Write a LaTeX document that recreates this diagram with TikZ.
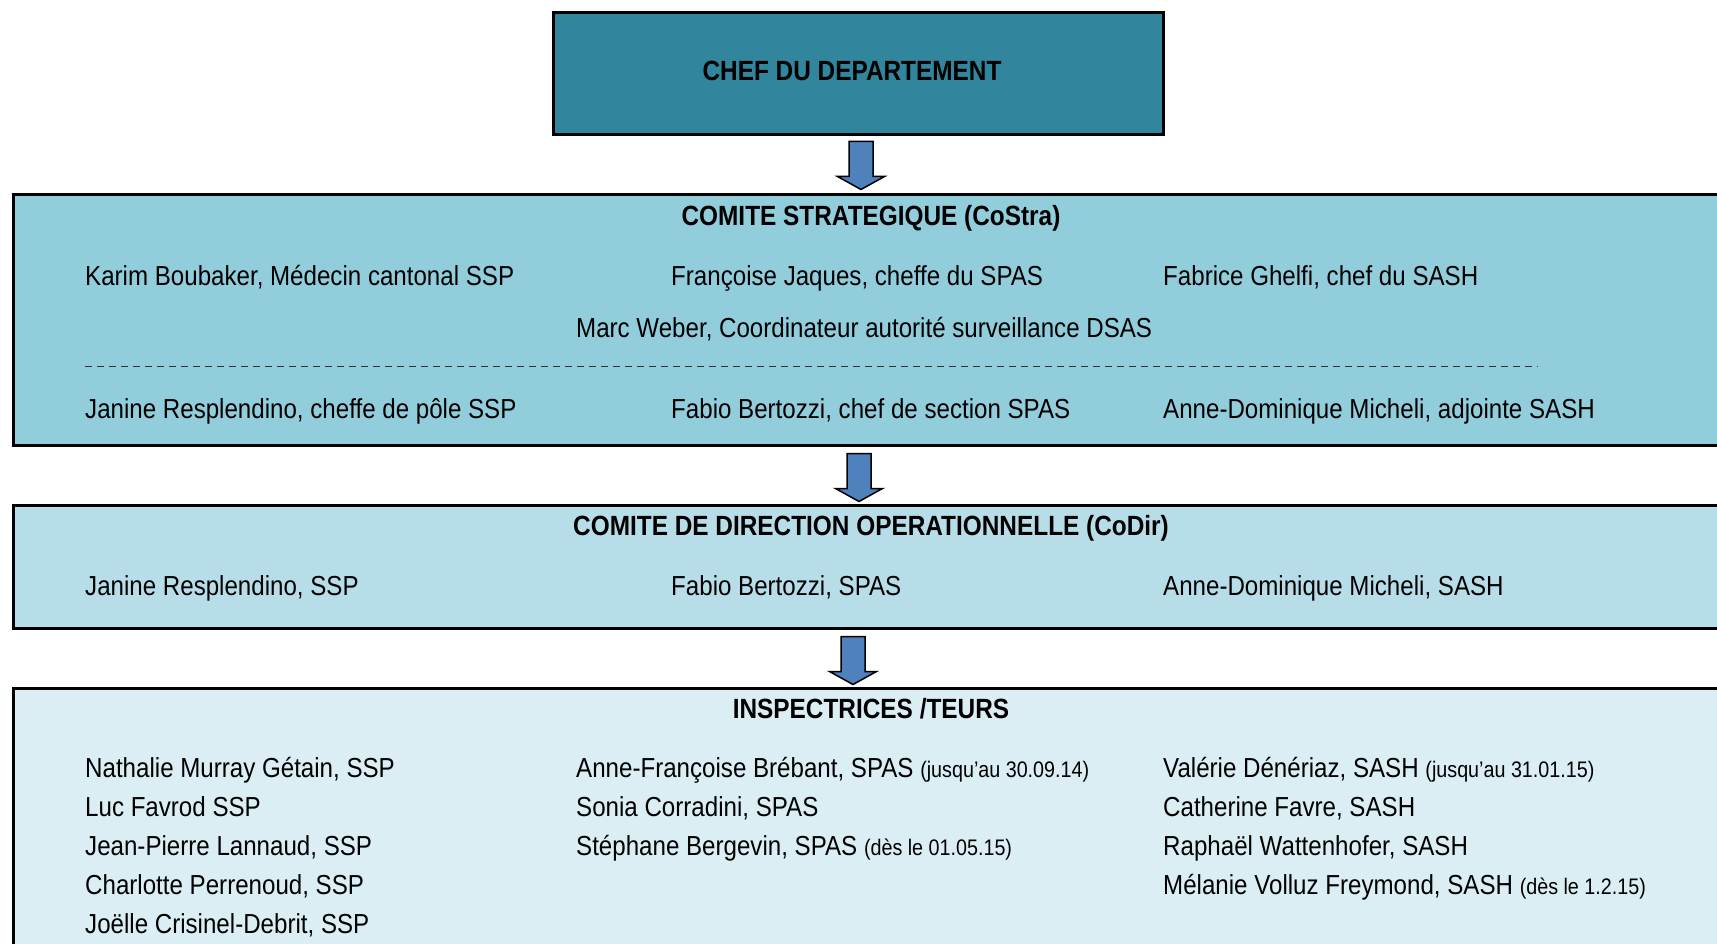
\documentclass[tikz,border=0pt]{standalone}
\usepackage{fontspec}
\setmainfont{Liberation Sans}[FakeStretch=0.877]
\usetikzlibrary{calc}
\definecolor{chefc}{HTML}{31859C}
\definecolor{costrac}{HTML}{92CDDC}
\definecolor{codirc}{HTML}{B7DEE8}
\definecolor{inspc}{HTML}{DAEEF3}
\definecolor{arrowc}{HTML}{4F81BD}
\newcommand{\smalldate}[1]{{\fontsize{22.5}{26}\selectfont #1}}
\begin{document}
\begin{tikzpicture}[x=1pt,y=-1pt,
  box/.style={draw=black, line width=3pt, inner sep=0pt, rectangle},
  txt/.style={anchor=base west, inner sep=0pt, font=\fontsize{27.5}{33}\selectfont},
  ttl/.style={anchor=base, inner sep=0pt, font=\fontsize{27.8}{33}\selectfont\bfseries},
  blockarrow/.pic={
    \draw[fill=arrowc, draw=black, line width=1.5pt, line join=miter]
      (-12,0) -- (12,0) -- (12,35) -- (23.5,35) -- (0,48) -- (-23.5,35) -- (-12,35) -- cycle;
  }]
\useasboundingbox (0,0) rectangle (1717,944);
\clip (0,0) rectangle (1717,944);
\fill[white] (0,0) rectangle (1717,944);

% boxes
\node[box, fill=chefc, minimum width=610pt, minimum height=122pt] (chef) at (858,74) {};
\node[box, fill=costrac, minimum width=1727pt, minimum height=250pt] (costra) at (876.5,320) {};
\node[box, fill=codirc, minimum width=1727pt, minimum height=123pt] (codir) at (876.5,566.5) {};
\node[box, fill=inspc, minimum width=1727pt, minimum height=312pt] (insp) at (876.5,844) {};

% arrows
\path ($(chef.south)+(3,5)$) pic {blockarrow};
\path ($(costra.south)+(-17.5,7)$) pic {blockarrow};
\path ($(codir.south)+(-23.5,7)$) pic {blockarrow};

% chef
\node[ttl] (tchef) at (852,81) {CHEF DU DEPARTEMENT};

% CoStra
\node[ttl] (tcostra) at (871,226) {COMITE STRATEGIQUE (CoStra)};
\node[txt] (s11) at (85,286) {Karim Boubaker, Médecin cantonal SSP};
\node[txt] (s12) at (671,286) {Françoise Jaques, cheffe du SPAS};
\node[txt] (s13) at (1163,286) {Fabrice Ghelfi, chef du SASH};
\node[txt] (s14) at (576,337) {Marc Weber, Coordinateur autorité surveillance DSAS};
\coordinate (dashL) at (85,366);
\coordinate (dashR) at (1538,366);
\draw[line width=1pt, dash pattern=on 7pt off 5pt, black!80] (dashL) -- (dashR);
\node[txt] (s21) at (85,418) {Janine Resplendino, cheffe de pôle SSP};
\node[txt] (s22) at (671,418) {Fabio Bertozzi, chef de section SPAS};
\node[txt] (s23) at (1163,418) {Anne-Dominique Micheli, adjointe SASH};

% CoDir
\node[ttl] (tcodir) at (871,535) {COMITE DE DIRECTION OPERATIONNELLE (CoDir)};
\node[txt] (d1) at (85,595) {Janine Resplendino, SSP};
\node[txt] (d2) at (671,595) {Fabio Bertozzi, SPAS};
\node[txt] (d3) at (1163,595) {Anne-Dominique Micheli, SASH};

% Inspecteurs
\node[ttl] (tinsp) at (871,718) {INSPECTRICES /TEURS};
\node[txt] (a1) at (85,777) {Nathalie Murray Gétain, SSP};
\node[txt] (a2) at (85,816) {Luc Favrod SSP};
\node[txt] (a3) at (85,855) {Jean-Pierre Lannaud, SSP};
\node[txt] (a4) at (85,894) {Charlotte Perrenoud, SSP};
\node[txt] (a5) at (85,933) {Joëlle Crisinel-Debrit, SSP};
\node[txt] (b1) at (576,777) {Anne-Françoise Brébant, SPAS \smalldate{(jusqu’au 30.09.14)}};
\node[txt] (b2) at (576,816) {Sonia Corradini, SPAS};
\node[txt] (b3) at (576,855) {Stéphane Bergevin, SPAS \smalldate{(dès le 01.05.15)}};
\node[txt] (c1) at (1163,777) {Valérie Dénériaz, SASH \smalldate{(jusqu’au 31.01.15)}};
\node[txt] (c2) at (1163,816) {Catherine Favre, SASH};
\node[txt] (c3) at (1163,855) {Raphaël Wattenhofer, SASH};
\node[txt] (c4) at (1163,894) {Mélanie Volluz Freymond, SASH \smalldate{(dès le 1.2.15)}};
\end{tikzpicture}
\end{document}
